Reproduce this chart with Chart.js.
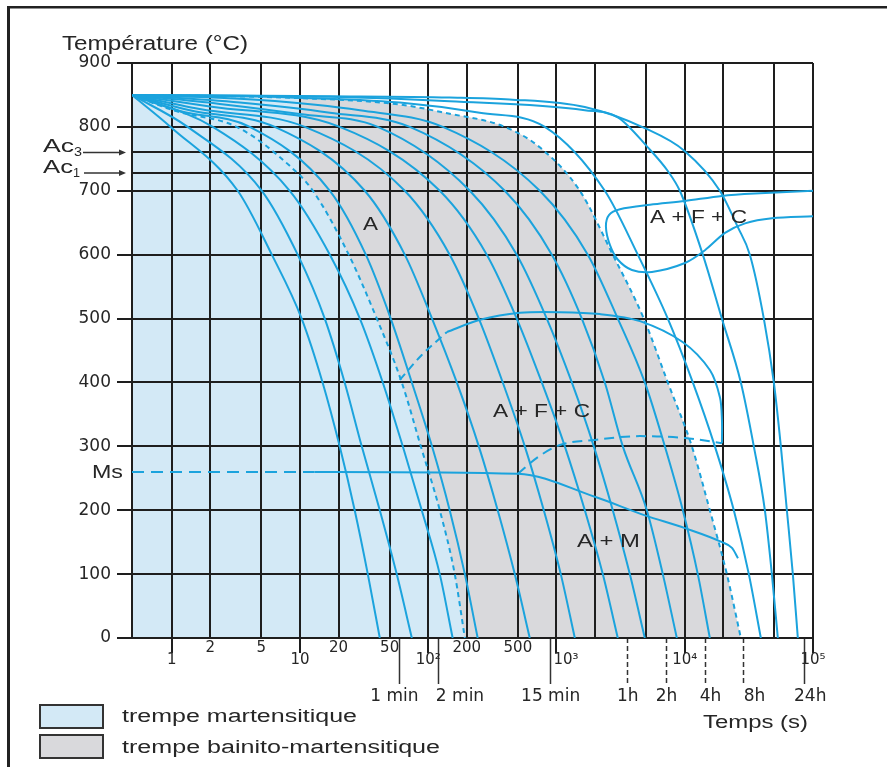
<!DOCTYPE html>
<html lang="fr">
<head>
<meta charset="utf-8">
<title>Diagramme TRC</title>
<script src="https://cdn.jsdelivr.net/npm/chart.js@4.4.1/dist/chart.umd.min.js"></script>
<style>
  html, body { margin: 0; padding: 0; background: #ffffff; }
  canvas { display: block; }
</style>
</head>
<body>
<canvas id="trc" width="887" height="767"></canvas>
<script>
var xMin = 0.49;
var xMax = 100000;

// temperature grid and critical points (°C)
var yGrid = [0, 100, 200, 300, 400, 500, 600, 700, 728, 760, 800, 900];
var acLevels = [728, 760];   // Ac1, Ac3
var msLevel = 260;

// time grid (s) and its labels (lower row = decades)
var nb = '\u00a0';
var xGrid = [1, 2, 5, 10, 20, 50, 100, 200, 500, 1000, 2000, 5000, 10000, 20000, 50000, 100000];
var xTickText = ['1', '2', '5', '10', '20', '50', '10²', '200', '500', nb + nb + nb + nb + '10³', '', '', '10⁴', '', '', '10⁵'];
var xTickLow = [1, 0, 0, 1, 0, 0, 1, 0, 0, 1, 0, 0, 1, 0, 0, 1];

// second row: usual durations (spaces only nudge the text off its mark, as on the original)
var timeMarks = [60, 120, 900, 3600, 7200, 14400, 28800, 86400];
var timeText = ['1 min' + nb + nb, nb.repeat(8) + '2 min', '15 min', '1h', '2h', nb + nb + '4h', nb.repeat(4) + '8h', nb + nb + '24h'];
var timeDashed = [3600, 7200, 14400, 28800];

// cooling curves, time (s) / temperature (°C)
var stdTemp = [850, 800, 700, 600, 500, 400, 300, 200, 100, 0];
var c1Time = [0.49, 0.98, 3.27, 6.03, 10.3, 15.0, 20.4, 26.7, 33.8, 41.9];
var c2Time = [0.49, 1.33, 5.04, 9.6, 15.6, 22.3, 30.3, 41.9, 56.8, 74.5];
var c3Time = [0.49, 2.09, 8.32, 17.1, 29.3, 44.2, 63.3, 89, 123, 155];
var d1Time = [0.49, 1.06, 3.21, 8.32, 12.6, 24.0, 39.7, 62.2, 87.5, 123, 161, 193];
var d1Temp = [850, 825, 800, 739, 700, 600, 500, 400, 300, 200, 100, 0];
var c4Time = [0.49, 1.16, 4.06, 17.1, 32.6, 51, 74.5, 107, 147, 193, 243];
var c4Temp = [850, 825, 800, 700, 600, 500, 400, 300, 200, 100, 0];
var c5Time = [0.49, 1.38, 6.36, 32, 65.6, 107, 167, 248, 348, 473, 619];
var c5Temp = [850, 826, 800, 700, 600, 500, 400, 300, 200, 100, 0];
var c6Time = [0.49, 1.65, 10.9, 65.6, 147, 248, 381, 566, 796, 1080, 1390];
var c6Temp = [850, 828, 800, 700, 600, 500, 400, 300, 200, 100, 0];
var c7Time = [0.49, 1.98, 20.4, 123, 286, 490, 768, 1161, 1663, 2296, 3005];
var c7Temp = [850, 832, 800, 700, 600, 500, 400, 300, 200, 100, 0];
var c8Time = [0.49, 2.37, 9.96, 40.4, 211, 490, 840, 1317, 1954, 2747, 3730, 4883];
var c8Temp = [850, 836, 820, 800, 700, 600, 500, 400, 300, 200, 100, 0];
var c9Time = [0.49, 3.39, 17.1, 71.8, 395, 920, 1576, 2381, 3289, 5061, 6744, 8675];
var c9Temp = [850, 838, 822, 800, 700, 600, 500, 400, 300, 200, 100, 0];
var c10Time = [0.49, 4.86, 29.3, 130, 741, 1754, 3005, 4883, 6993, 9659, 12640, 15690];
var c10Temp = [850, 842, 826, 800, 700, 600, 500, 400, 300, 200, 100, 0];
var d2Time = [0.49, 10, 60, 135, 395, 741, 1520, 2747, 4793, 7376, 11360, 15690, 21300, 27380];
var d2Temp = [850, 845, 835, 822, 800, 768, 700, 600, 500, 400, 300, 200, 100, 0];
var c11Time = [0.49, 8.32, 60, 252, 811, 2381, 4305, 7376, 11560, 17170, 24130, 31600, 39210];
var c11Temp = [850, 846, 838, 822, 800, 700, 600, 500, 400, 300, 200, 100, 0];
var c12Time = [0.49, 17.1, 147, 1663, 3005, 5150, 7376, 9155, 13830, 19470, 27380, 34560, 42130, 47790, 53190];
var c12Temp = [850, 847, 840, 826, 815, 768, 731, 700, 600, 500, 400, 300, 200, 100, 0];
var c13Time = [0.49, 17.1, 147, 432, 1663, 4883, 10020, 18780, 25930, 32180, 41360, 49500, 56150, 62550, 69640, 76170];
var c13Temp = [850, 848, 846, 843, 831, 798, 762, 700, 643, 600, 500, 400, 300, 200, 100, 0];

// Ms line
var msDashTime = [0.49, 13];
var msDashTemp = [260, 260];
var msTime = [13, 500, 1990, 4900, 10040, 19500, 23350, 26000];
var msTemp = [260, 257, 221, 192, 172, 150, 141, 125];

// bainite domain: start (dashed then solid) and finish
var bsDashTime = [60, 89, 140];
var bsDashTemp = [404, 443, 479];
var bsTime = [140, 253, 518, 1064, 2182, 4477, 9680, 15740, 18840, 19500, 19500];
var bsTemp = [479, 498, 509, 510, 507, 496, 463, 419, 376, 341, 305];
var bfTime = [500, 703, 1064, 1990, 4477, 10040, 19500];
var bfTemp = [257, 282, 302, 310, 316, 313, 305];

// ferrite / pearlite domain (nose), followed along its outline
var fpTime = [100000, 38640, 19500, 10040, 5358, 3126, 2564, 2430, 2612, 3013, 3873, 5546, 10040, 14380, 20600, 29500, 47900, 100000];
var fpTemp = [700, 696, 692, 684, 678, 671, 662, 643, 615, 592, 576, 573, 587, 607, 634, 649, 657, 660];

var curveColor = '#1ba3dd';
var gridColor = '#1e1e1e';
var blueFill = '#d3e9f6';
var grayFill = '#d9d9dc';
var textColor = '#262626';

function pts(times, temps) {
  return times.map(function (t, i) { return { x: t, y: temps[i] }; });
}

function curve(times, temps, dash) {
  return {
    data: pts(times, temps), xAxisID: 'x', yAxisID: 'y',
    borderColor: curveColor, borderWidth: 2, borderDash: dash || [],
    pointRadius: 0, fill: false, cubicInterpolationMode: 'monotone'
  };
}

function outline(times, temps, dash) {
  var d = curve(times, temps, dash);
  d.cubicInterpolationMode = 'default';
  d.tension = 0.3;
  return d;
}

function area(times, temps, color) {
  return {
    data: pts(times, temps), xAxisID: 'x', yAxisID: 'y',
    borderWidth: 0, borderColor: 'transparent', backgroundColor: color,
    pointRadius: 0, fill: 'origin', cubicInterpolationMode: 'monotone'
  };
}

// martensitic zone: everything before 10 s, then under the first critical curve
var leftTime = d2Time.filter(function (t) { return t <= 10; });
var leftTemp = d2Temp.slice(0, leftTime.length);

var datasets = [
  area(leftTime, leftTemp, blueFill),
  area(d1Time, d1Temp, blueFill),
  area(d2Time, d2Temp, grayFill),
  curve(c1Time, stdTemp),
  curve(c2Time, stdTemp),
  curve(c3Time, stdTemp),
  curve(c4Time, c4Temp),
  curve(c5Time, c5Temp),
  curve(c6Time, c6Temp),
  curve(c7Time, c7Temp),
  curve(c8Time, c8Temp),
  curve(c9Time, c9Temp),
  curve(c10Time, c10Temp),
  curve(c11Time, c11Temp),
  curve(c12Time, c12Temp),
  curve(c13Time, c13Temp),
  curve(d1Time, d1Temp, [5, 4]),
  curve(d2Time, d2Temp, [5, 4]),
  curve(msDashTime, msDashTemp, [12, 7]),
  curve(msTime, msTemp),
  curve(bsDashTime, bsDashTemp, [8, 5]),
  outline(bsTime, bsTemp),
  curve(bfTime, bfTemp, [10, 6]),
  outline(fpTime, fpTemp)
];

function stretchText(ctx, s, x, y, w, size) {
  ctx.save();
  ctx.font = size + 'px "Liberation Sans", Arial, sans-serif';
  var m = ctx.measureText(s).width;
  ctx.translate(x, y);
  ctx.scale(w / m, 1);
  ctx.fillText(s, 0, 0);
  ctx.restore();
}

function arrow(ctx, x0, x1, y) {
  ctx.strokeStyle = '#333';
  ctx.lineWidth = 1.5;
  ctx.beginPath();
  ctx.moveTo(x0, y);
  ctx.lineTo(x1 - 5, y);
  ctx.stroke();
  ctx.fillStyle = '#333';
  ctx.beginPath();
  ctx.moveTo(x1, y);
  ctx.lineTo(x1 - 7, y - 3);
  ctx.lineTo(x1 - 7, y + 3);
  ctx.closePath();
  ctx.fill();
}

// texts, arrows, legend and frame
var decor = {
  id: 'decor',
  afterDraw: function (chart) {
    var ctx = chart.ctx;
    var ys = chart.scales.y;
    var y3 = ys.getPixelForValue(acLevels[1]);
    var y1 = ys.getPixelForValue(acLevels[0]);

    ctx.save();
    ctx.textAlign = 'left';
    ctx.textBaseline = 'alphabetic';
    ctx.fillStyle = textColor;
    stretchText(ctx, 'Température (°C)', 62, 50, 186, 20);
    stretchText(ctx, 'Ac', 43, y3, 31, 18);
    stretchText(ctx, '3', 74, y3 + 4, 8, 13);
    stretchText(ctx, 'Ac', 43, y1, 30, 18);
    stretchText(ctx, '1', 73, y1 + 4, 7, 13);
    stretchText(ctx, 'Ms', 92, ys.getPixelForValue(msLevel) + 6, 31, 18);

    stretchText(ctx, 'A', 363, 230, 15, 18);
    stretchText(ctx, 'A + F + C', 650, 223, 97, 18);
    stretchText(ctx, 'A + F + C', 493, 417, 97, 18);
    stretchText(ctx, 'A + M', 577, 547, 63, 18);
    stretchText(ctx, 'Temps (s)', 703, 728, 105, 18);

    arrow(ctx, 83, 126, y3);
    arrow(ctx, 84, 126, y1);

    // legend
    ctx.lineWidth = 2;
    ctx.strokeStyle = '#333';
    ctx.fillStyle = blueFill;
    ctx.fillRect(40, 705, 63, 23);
    ctx.strokeRect(40, 705, 63, 23);
    ctx.fillStyle = grayFill;
    ctx.fillRect(40, 735, 63, 23);
    ctx.strokeRect(40, 735, 63, 23);
    ctx.fillStyle = textColor;
    stretchText(ctx, 'trempe martensitique', 122, 722, 235, 18);
    stretchText(ctx, 'trempe bainito-martensitique', 122, 753, 318, 18);

    // frame
    ctx.fillStyle = '#222';
    ctx.fillRect(7, 6, 880, 2.5);
    ctx.fillRect(7, 6, 3, 761);
    ctx.restore();
  }
};

var trcChart = new Chart(document.getElementById('trc'), {
  type: 'line',
  data: { datasets: datasets },
  options: {
    responsive: false,
    animation: false,
    events: [],
    layout: { padding: { left: 0, top: 63, right: 74, bottom: 129 } },
    plugins: {
      legend: { display: false },
      tooltip: { enabled: false },
      filler: { drawTime: 'beforeDraw' }
    },
    scales: {
      x: {
        type: 'logarithmic', axis: 'x', min: xMin, max: xMax, bounds: 'data',
        position: { y: 0 },
        afterBuildTicks: function (scale) {
          scale.ticks = xGrid.map(function (v) { return { value: v }; });
        },
        grid: {
          color: gridColor, lineWidth: 2, tickLength: 14, tickWidth: 2,
          tickColor: function (c) {
            if (!c.tick) return 'transparent';
            var i = xGrid.indexOf(c.tick.value);
            return i >= 0 && xTickLow[i] ? gridColor : 'transparent';
          }
        },
        border: { color: gridColor, width: 2 },
        ticks: {
          autoSkip: false, maxRotation: 0, padding: -10, color: textColor,
          font: { family: 'DejaVu Sans', size: 15, lineHeight: 0.8 },
          callback: function (v, i) {
            var s = xTickText[i];
            return xTickLow[i] ? ['', s] : s;
          }
        }
      },
      x2: {
        type: 'logarithmic', axis: 'x', min: xMin, max: xMax, bounds: 'data',
        position: { y: 0 },
        afterBuildTicks: function (scale) {
          scale.ticks = timeMarks.map(function (v) { return { value: v }; });
        },
        grid: {
          drawOnChartArea: false, tickLength: 46, tickWidth: 1.5, tickColor: '#333',
          tickBorderDash: function (c) {
            return c.tick && timeDashed.indexOf(c.tick.value) >= 0 ? [5, 3] : [];
          }
        },
        border: { display: false },
        ticks: {
          autoSkip: false, maxRotation: 0, padding: 2, color: textColor,
          font: { family: 'DejaVu Sans', size: 17, lineHeight: 1.2 },
          callback: function (v, i) { return timeText[i]; }
        }
      },
      y: {
        type: 'linear', min: 0, max: 900, position: 'left',
        afterBuildTicks: function (scale) {
          scale.ticks = yGrid.map(function (v) { return { value: v }; });
        },
        afterFit: function (scale) { scale.width = 132; },
        grid: {
          color: gridColor, lineWidth: 2, tickLength: 15, tickWidth: 2,
          tickColor: function (c) {
            return c.tick && acLevels.indexOf(c.tick.value) >= 0 ? 'transparent' : gridColor;
          }
        },
        border: { color: gridColor, width: 2 },
        ticks: {
          autoSkip: false, padding: 6, color: textColor,
          font: { family: 'DejaVu Sans', size: 17 },
          callback: function (v) { return acLevels.indexOf(v) >= 0 ? '' : String(v); }
        }
      }
    }
  },
  plugins: [decor]
});
</script>
</body>
</html>
